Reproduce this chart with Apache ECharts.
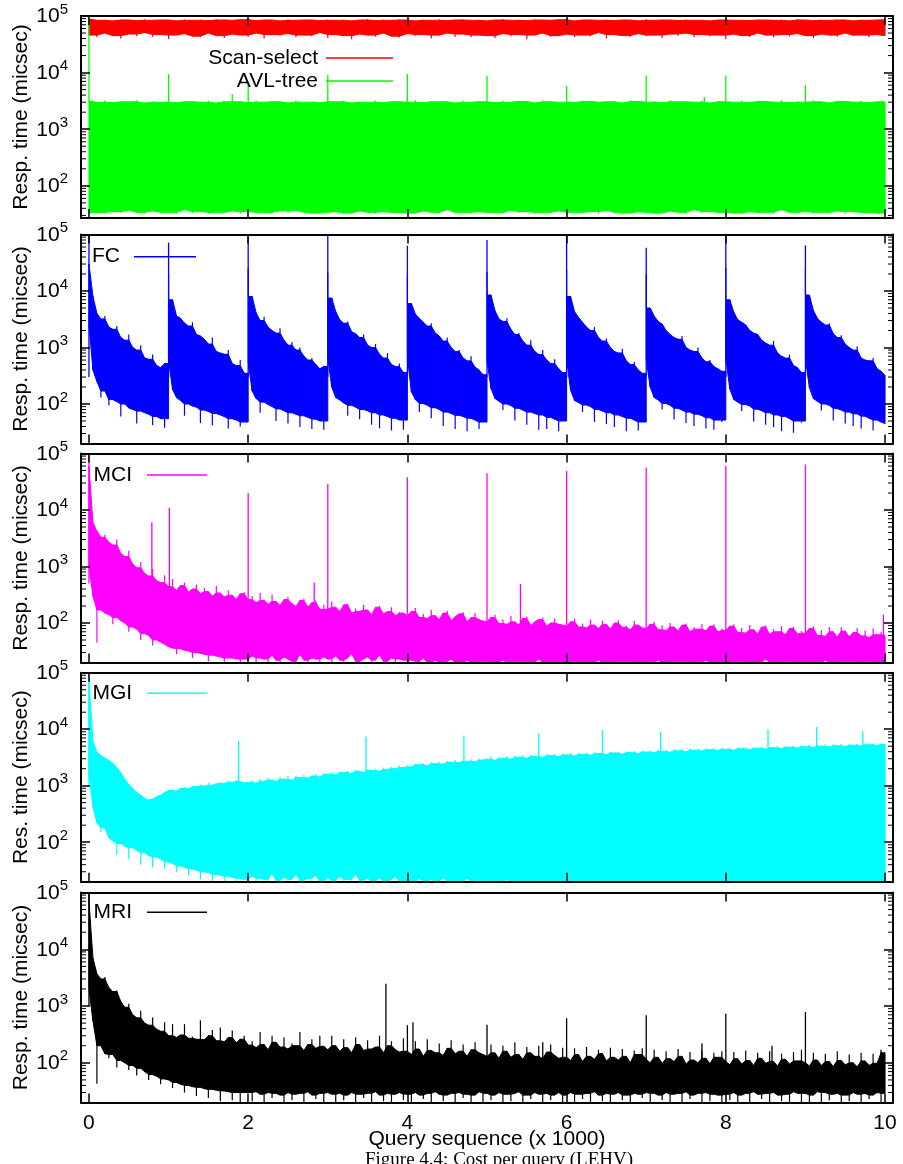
<!DOCTYPE html>
<html><head><meta charset="utf-8">
<script src="https://cdn.jsdelivr.net/npm/echarts@6/dist/echarts.min.js"></script>
<style>html,body{margin:0;padding:0;background:#fff}#c{width:903px;height:1164px}</style>
</head><body><div id="c"></div>
<script>
// ---------------- DATA ----------------
const X_TICKS = [0, 2, 4, 6, 8, 10];
const MINOR_TICKS = [20,30,40,50,60,70,80,90,200,300,400,500,600,700,800,900,2000,3000,4000,5000,6000,7000,8000,9000,20000,30000,40000,50000,60000,70000,80000,90000];
const Y_TITLES = ['Resp. time (micsec)','Resp. time (micsec)','Resp. time (micsec)','Res. time (micsec)','Resp. time (micsec)'];
const X_TITLE = 'Query sequence (x 1000)';
const CAPTION = 'Figure 4.4: Cost per query (LEHV)';

// Scan-select (sampled every 0.1 x 1000 queries): upper / lower envelope
const SCAN_HI = [88000,84000,86000,82000,87000,85000,83000,88000,84000,86000,
 85000,82000,87000,84000,86000,83000,88000,85000,84000,86000,
 87000,83000,85000,86000,82000,88000,84000,86000,85000,83000,
 87000,84000,86000,82000,85000,88000,83000,86000,84000,87000,
 85000,82000,86000,84000,88000,83000,85000,87000,84000,86000,
 82000,85000,88000,84000,86000,83000,87000,85000,84000,86000,
 88000,82000,85000,86000,84000,87000,83000,86000,85000,82000,
 88000,84000,86000,85000,83000,87000,84000,86000,82000,85000,
 88000,84000,86000,83000,87000,85000,84000,86000,82000,88000,
 85000,83000,86000,84000,87000,85000,82000,86000,84000,85000,
 86000];
const SCAN_LO = [46000,42000,50000,45000,40000,48000,44000,51000,43000,47000,
 39000,46000,49000,44000,42000,50000,45000,41000,48000,46000,
 43000,50000,40000,47000,45000,49000,42000,46000,44000,51000,
 41000,47000,45000,39000,48000,46000,43000,50000,44000,42000,
 49000,45000,47000,40000,46000,50000,43000,48000,42000,46000,
 45000,41000,49000,44000,47000,39000,46000,50000,43000,45000,
 48000,42000,46000,44000,51000,40000,47000,45000,43000,49000,
 44000,46000,41000,48000,45000,50000,42000,47000,44000,46000,
 39000,48000,45000,43000,50000,46000,42000,47000,44000,49000,
 45000,41000,48000,46000,43000,50000,44000,46000,42000,47000,
 45000];

// AVL-tree (every 0.1)
const AVL_HI = [3150,3000,3200,2950,3100,3050,3250,2900,3100,3000,
 3200,2950,3150,3050,3000,3200,2900,3150,3050,3100,
 2950,3200,3000,3150,3050,2900,3250,3000,3100,2950,
 3150,3050,3200,2900,3100,3000,3200,2950,3150,3050,
 3000,3250,2950,3100,3050,3150,2900,3200,3000,3100,
 3050,2950,3200,3000,3150,3100,2900,3250,3050,3000,
 3150,2950,3100,3200,3000,3050,3150,2900,3200,3100,
 3000,3150,2950,3250,3050,3100,3000,3200,2900,3150,
 3050,3000,3200,2950,3100,3150,3000,3250,2950,3100,
 3000,3200,3050,2900,3150,3100,3000,3200,2950,3100,
 3050];
const AVL_LO = [33,34,32,35,33,37,34,32,36,33,
 34,32,38,33,35,32,34,33,36,32,
 35,33,34,32,36,33,37,34,32,33,
 34,35,32,33,36,34,32,35,33,34,
 32,33,36,34,32,38,33,34,32,35,
 33,34,32,37,33,35,32,34,33,36,
 32,34,33,35,32,37,34,33,32,35,
 34,32,33,36,34,32,38,33,35,32,
 34,33,32,35,33,34,32,38,33,34,
 35,32,34,33,36,32,35,33,34,32,
 33];
const AVL_SPIKES = [[0,100000,3000],[1,9400,3000],[1.8,4200,3000],[2,6500,3000],[3,9100,3000],[4,9400,3000],[5,8700,3000],[6,5800,3000],[7,8900,3000],[7.73,3700,3000],[8,8900,3000],[9,6000,3000]];

// FC (every 0.05)
const FC_HI = [
 30000,8000,4000,3200,3600,2300,2100,2400,1500,1350,1700,1000,900,1100,650,620,750,480,440,520,
 20000,7000,3600,3300,2700,2400,2800,1700,1600,1400,1150,1500,850,800,760,900,520,480,600,350,
 25000,8000,4100,3000,3500,2300,2000,1800,2200,1350,1100,1250,900,1000,700,600,650,500,420,460,
 21000,7500,4300,3100,2700,2900,1900,1750,1500,1700,1100,1000,1150,760,650,800,500,460,520,360,
 18000,6000,3900,3300,2800,2400,2700,1800,1600,1300,1500,1000,850,900,650,580,700,450,400,330,
 22000,8500,4500,3200,2900,3300,2100,1700,1800,1300,1100,1350,850,750,900,600,520,620,420,360,
 24000,8000,4300,3400,2800,2300,2000,2300,1500,1300,1450,1000,850,800,950,580,500,560,400,350,
 20000,5000,3600,2900,2600,2000,1700,1500,1400,1600,1000,900,850,1000,650,560,600,460,420,380,
 26000,7000,4200,3100,2800,2500,2000,1800,1700,1350,1200,1100,1300,800,700,650,750,480,440,360,
 25000,8500,4500,3300,2800,2500,2700,1750,1500,1650,1150,1000,900,1050,650,600,580,650,420,380,
 320];
const FC_LO = [
 2500,400,250,130,170,95,120,110,60,100,85,80,45,75,70,66,42,60,55,38,
 600,180,130,115,62,100,92,88,46,78,74,42,68,64,60,37,55,52,40,48,
 550,170,125,70,108,98,90,50,82,76,45,70,66,39,62,58,36,54,50,35,
 650,200,130,118,104,62,95,88,54,80,76,43,70,37,64,60,34,56,52,35,
 660,165,120,72,102,95,56,86,80,41,72,68,36,63,60,33,56,52,36,48,
 580,190,125,112,78,100,94,51,84,78,43,72,68,35,64,36,58,54,33,50,
 620,175,115,106,72,96,90,48,80,75,44,70,39,64,60,33,56,52,34,48,
 600,200,130,118,80,102,95,53,84,78,46,72,41,66,62,37,57,35,52,48,
 640,185,120,108,75,98,92,49,81,76,43,70,39,64,33,60,55,31,50,47,
 610,195,125,112,77,100,95,51,83,78,45,72,41,67,37,61,56,34,52,48,
 45];
const FC_SPIKES = [[0,100000,300],[1,72000,300],[2,91000,300],[3,100000,300],[4,63000,300],[5,80000,300],[6,100000,300],[7,58000,300],[8,95000,300],[9,64000,300]];

// MCI (every 0.05)
const MCI_HI = [
 60000,6000,4200,3300,3600,2700,2400,3000,1700,1500,1900,1100,950,1200,750,680,900,560,520,700,
 440,600,380,460,520,350,400,480,330,420,360,300,450,340,290,380,310,260,330,350,
 260,300,230,340,250,215,320,240,205,260,290,220,195,250,270,190,230,250,175,210,
 175,240,190,160,210,220,150,180,160,210,170,140,190,200,145,160,190,135,155,150,
 135,160,185,125,145,120,170,135,115,150,165,110,130,145,155,105,125,150,115,108,
 106,125,140,98,115,95,135,105,92,120,130,90,105,115,125,88,100,120,95,92,
 88,105,120,85,98,82,115,92,80,110,95,78,100,112,84,90,76,108,92,82,
 80,95,105,76,90,74,100,85,72,92,98,70,84,78,96,73,88,95,70,80,
 74,88,95,68,82,66,92,76,64,85,90,63,78,70,88,62,80,86,64,72,
 66,80,88,60,75,58,85,70,56,84,72,57,68,82,59,74,55,80,62,70,
 60];
const MCI_LO = [
 1000,300,45,170,150,140,95,125,110,100,70,85,78,50,65,60,40,50,46,42,
 38,36,28,35,33,32,24,30,29,28,21,27,26,25,19,24,24,23,18,23,
 22,26,17,24,23,19,27,22,16,25,23,21,18,28,22,17,24,23,16,25,
 23,18,26,22,17,24,29,21,16,23,25,18,22,27,17,21,24,16,23,22,
 18,22,21,16,24,20,17,22,19,15,21,23,16,20,18,22,15,19,21,17,
 17,20,16,19,22,15,18,17,21,16,19,15,18,23,16,17,20,15,18,19,
 16,19,21,15,18,17,20,16,22,15,18,19,16,17,21,15,19,18,16,20,
 18,15,19,22,16,17,20,15,18,21,16,19,15,18,17,22,16,19,15,18,
 19,16,18,15,21,17,16,20,15,18,23,16,17,19,15,18,21,16,17,15,
 17,20,15,18,16,22,17,15,19,18,16,21,15,17,19,16,18,15,20,17,
 18];
const MCI_SPIKES = [[0,100000,500],[0.79,6000,300],[1.01,11000,300],[2,20000,200],[2.83,520,150],[3,29000,150],[4,38000,120],[5,44500,100],[5.42,490,100],[6,49000,90],[7,56000,80],[8,60000,70],[9,64000,60],[9.98,140,60]];

// MGI (every 0.05)
const MGI_HI = [
 70000,6000,3900,3400,3100,2800,2500,2100,1700,1300,1050,900,760,680,600,560,580,640,680,760,
 820,870,800,900,940,880,1000,960,1050,990,1130,1020,1080,1150,1100,1230,1150,1260,1180,1120,
 1150,1250,1100,1320,1200,1380,1260,1180,1420,1300,1480,1250,1500,1400,1550,1350,1480,1600,1420,1650,
 1600,1750,1550,1780,1700,1820,1650,1900,1800,1700,1950,1850,2000,1780,2100,1950,2150,2000,2250,2100,
 2300,2150,2450,2350,2500,2250,2600,2450,2650,2400,2750,2600,2870,2550,2800,2700,2950,2650,3000,2850,
 2950,3300,2800,3200,3050,3350,2950,3400,3200,3450,3050,3540,3300,3500,3150,3600,3400,3650,3250,3700,
 3500,3800,3350,3750,3600,3850,3450,3900,3700,3950,3550,4000,3800,3950,3600,4050,3850,4100,3700,4150,
 3950,4200,3800,4300,4050,4350,3900,4400,4150,4500,4000,4600,4250,4550,4100,4600,4350,4650,4200,4700,
 4400,4700,4250,4800,4500,4750,4350,4850,4600,4900,4450,4900,4700,5000,4550,5050,4800,5100,4650,5200,
 4900,5300,4750,5250,5000,5350,4850,5400,5100,5450,4950,5400,5200,5500,5050,5550,5300,5600,5150,5600,
 5400];
const MGI_LO = [
 1500,420,220,150,180,120,105,60,95,85,50,80,72,40,65,58,36,55,50,34,
 45,42,30,38,36,26,34,32,22,30,29,20,27,26,18,25,24,17,23,22,
 21,25,17,23,22,16,28,21,18,24,16,22,27,17,21,23,16,26,20,18,
 24,17,21,25,16,22,19,27,17,21,23,16,20,24,18,16,22,25,17,20,
 21,17,19,23,16,20,22,17,18,24,16,19,21,16,18,23,17,20,16,19,
 18,21,16,19,17,22,16,18,20,15,19,17,21,16,18,20,15,17,19,16,
 17,19,15,18,20,16,17,19,15,21,16,18,17,15,19,16,20,17,15,18,
 16,18,20,15,17,19,16,18,15,17,20,16,18,15,19,17,16,18,15,17,
 18,15,17,19,16,18,15,20,17,16,18,15,19,17,16,18,15,17,19,16,
 17,16,18,15,19,17,16,18,15,17,20,16,18,15,17,19,16,18,15,17,
 17];
const MGI_SPIKES = [[0,100000,1000],[1.88,6200,900],[3.48,7400,1800],[4.71,7700,2500],[5.65,8500,3000],[6.45,9700,3500],[7.18,8900,3500],[8.53,10000,4000],[9.14,11000,4500],[9.72,9300,4500]];

// MRI (every 0.05)
const MRI_HI = [
 70000,7000,3700,3000,3250,2100,1800,1870,1200,950,1100,700,620,830,500,460,630,390,360,520,
 300,480,280,310,480,270,290,260,560,255,300,380,245,420,235,280,370,225,260,300,
 205,240,185,350,210,170,300,230,190,280,175,220,200,350,165,210,260,180,300,195,
 170,300,200,160,260,185,150,280,210,165,250,175,190,300,150,200,240,170,155,270,
 160,140,240,175,130,260,165,150,220,135,180,250,145,160,210,130,170,230,150,140,
 130,210,150,120,200,160,125,230,140,115,190,150,130,200,118,155,210,135,120,185,
 125,110,180,140,105,190,130,115,170,145,108,185,125,112,175,130,100,165,140,180,
 115,100,170,125,98,160,118,105,175,130,95,155,112,100,165,120,96,150,125,160,
 105,92,155,118,95,165,110,90,150,120,98,160,105,88,145,115,95,155,108,170,
 100,88,150,112,90,145,105,86,160,110,92,140,100,85,150,108,90,145,98,155,
 150];
const MRI_LO = [
 2000,550,43,200,145,120,140,83,110,100,75,90,60,80,70,50,62,58,42,52,
 50,36,45,42,30,40,38,26,37,35,24,34,33,21,32,31,22,30,20,30,
 30,21,31,28,19,30,24,29,27,18,30,22,28,29,20,31,27,23,29,19,
 30,28,18,29,22,27,30,20,28,24,29,19,31,27,21,29,18,28,30,22,
 28,20,30,27,23,29,19,31,28,21,27,29,18,30,24,28,20,27,31,19,
 29,22,27,30,18,28,21,29,31,20,27,23,30,28,19,29,22,27,30,18,
 27,30,20,28,23,29,18,31,27,21,29,19,28,30,22,27,20,29,28,24,
 30,19,29,27,22,30,20,28,29,18,31,23,27,29,19,30,21,28,27,20,
 28,22,30,20,27,29,19,31,28,23,29,18,30,27,21,28,20,31,29,19,
 29,20,27,31,19,30,22,28,29,18,27,21,30,28,20,29,23,27,30,20,
 29];
const MRI_SPIKES = [[0,100000,1000],[3.73,2470,120],[4,460,120],[4.07,520,120],[5,470,110],[5.7,230,100],[6,610,100],[7,690,100],[7.7,220,90],[8,730,90],[8.58,200,90],[9,790,90],[9.95,170,80]];

// ---------------- CHART ----------------
const FONT = '"Liberation Sans", Arial, Helvetica, sans-serif';
const Y_MAX = 100000;
// sampling grids (query index in thousands)
const XS_COARSE = Array.from({length: SCAN_HI.length}, (_, i) => +(i * 0.1).toFixed(2));
const XS_FINE = Array.from({length: FC_HI.length}, (_, i) => +(i * 0.05).toFixed(2));

const GRIDS = [
  {top: 16, height: 202, ymin: 27},
  {top: 234.5, height: 209, ymin: 20},
  {top: 453.5, height: 209, ymin: 20},
  {top: 672.7, height: 209, ymin: 20},
  {top: 892.5, height: 210, ymin: 20}
];

// band = dense core polygon + thin whiskers for isolated excursions
function bandSeries(name, color, xs, lo, hi, g) {
  const ymin = GRIDS[g].ymin;
  const cl = v => Math.min(Y_MAX, Math.max(ymin, v));
  const H = hi.map(cl), L = lo.map(cl), n = xs.length;
  const cH = H.map((v, i) => Math.min(v, Math.max(i > 0 ? H[i - 1] : v, i < n - 1 ? H[i + 1] : v)));
  const cL = L.map((v, i) => Math.max(v, Math.min(i > 0 ? L[i - 1] : v, i < n - 1 ? L[i + 1] : v)));
  const data = [];
  for (let i = 0; i < n - 1; i++) {
    // a sudden jump (cache reset) is drawn as a vertical step at the next sample
    const jump = cH[i + 1] > 4 * cH[i];
    data.push([xs[i], L[i], H[i], xs[i + 1], cL[i], cH[i],
      jump ? cL[i] : cL[i + 1], jump ? cH[i] : cH[i + 1], L[i + 1], H[i + 1], i === n - 2 ? 1 : 0]);
  }
  return {
    type: 'custom', name, xAxisIndex: 2 * g, yAxisIndex: 2 * g, silent: true, animation: false,
    itemStyle: {color}, z: 2, data,
    renderItem(params, api) {
      const x0 = api.value(0), x1 = api.value(3);
      const P = (x, y) => api.coord([x, y]);
      const children = [{type: 'polygon',
        shape: {points: [P(x0, api.value(5)), P(x1, api.value(7)), P(x1, api.value(6)), P(x0, api.value(4))]},
        style: {fill: color, stroke: color, lineWidth: 1}}];
      const whisk = (x, from, to) => {
        if (Math.abs(Math.log10(from) - Math.log10(to)) < 0.01) return;
        const a = P(x, from), b = P(x, to);
        children.push({type: 'line', shape: {x1: a[0], y1: a[1], x2: b[0], y2: b[1]}, style: {stroke: color, lineWidth: 1.2}});
      };
      whisk(x0, api.value(5), api.value(2));
      whisk(x0, api.value(4), api.value(1));
      if (api.value(10) === 1) { whisk(x1, api.value(7), api.value(9)); whisk(x1, api.value(6), api.value(8)); }
      return {type: 'group', children};
    }
  };
}
function spikeSeries(name, color, spikes, g) {
  const ymin = GRIDS[g].ymin;
  const cl = v => Math.min(Y_MAX, Math.max(ymin, v));
  return {
    type: 'custom', name, xAxisIndex: 2 * g, yAxisIndex: 2 * g, silent: true, animation: false, z: 3,
    itemStyle: {color}, data: spikes,
    renderItem(params, api) {
      const x = api.value(0);
      const a = api.coord([x, cl(api.value(1))]);
      const b = api.coord([x, cl(api.value(2))]);
      return {type: 'line', shape: {x1: a[0], y1: a[1], x2: b[0], y2: b[1]}, style: {stroke: color, lineWidth: 1.3}};
    }
  };
}
function minorTickSeries(g) {
  const ymin = GRIDS[g].ymin;
  return {
    type: 'custom', name: 'minor' + g, xAxisIndex: 2 * g, yAxisIndex: 2 * g, silent: true, animation: false, z: 20,
    data: MINOR_TICKS.filter(v => v > ymin && v < Y_MAX).map(v => [0, v]),
    renderItem(params, api) {
      const cs = params.coordSys;
      const y = api.coord([0, api.value(1)])[1];
      return {type: 'group', children: [
        {type: 'line', shape: {x1: cs.x, y1: y, x2: cs.x + 5, y2: y}, style: {stroke: '#000', lineWidth: 1}},
        {type: 'line', shape: {x1: cs.x + cs.width - 5, y1: y, x2: cs.x + cs.width, y2: y}, style: {stroke: '#000', lineWidth: 1}}
      ]};
    }
  };
}

const grid = [], xAxis = [], yAxis = [];
GRIDS.forEach((G, g) => {
  grid.push({left: 81, width: 812, top: G.top, height: G.height, containLabel: false});
  const xBase = {
    type: 'value', gridIndex: g, min: -0.1, max: 10.1, z: 10,
    axisLine: {show: true, onZero: false, lineStyle: {color: '#000', width: 2}},
    axisTick: {show: true, inside: true, length: 9, customValues: X_TICKS, lineStyle: {color: '#000', width: 1.5}},
    splitLine: {show: false}
  };
  xAxis.push(Object.assign({}, xBase, {
    position: 'bottom',
    axisLabel: {show: g === 4, customValues: X_TICKS, fontSize: 21, fontFamily: FONT, color: '#000', margin: 10},
    name: g === 4 ? X_TITLE : '', nameLocation: 'middle', nameGap: 26, nameMoveOverlap: false,
    nameTextStyle: {fontSize: 21, fontFamily: FONT, color: '#000'}
  }));
  xAxis.push(Object.assign({}, xBase, {position: 'top', axisLabel: {show: false}}));
  const yBase = {
    type: 'log', logBase: 10, gridIndex: g, min: G.ymin, max: Y_MAX, z: 10,
    axisLine: {show: true, onZero: false, lineStyle: {color: '#000', width: 2}},
    axisTick: {show: true, inside: true, length: 9, lineStyle: {color: '#000', width: 1.5}},
    splitLine: {show: false}, minorTick: {show: false}
  };
  yAxis.push(Object.assign({}, yBase, {
    position: 'left',
    axisLabel: {
      margin: 13,
      formatter: v => {
        const e = Math.round(Math.log10(v));
        if (Math.abs(Math.pow(10, e) - v) > 1e-6 * v) return '';
        return '{b|10}{s|' + e + '}';
      },
      rich: {
        b: {fontSize: 21, fontFamily: FONT, color: '#000', lineHeight: 22, verticalAlign: 'bottom'},
        s: {fontSize: 15, fontFamily: FONT, color: '#000', lineHeight: 15, verticalAlign: 'bottom', padding: [0, 0, 10, 0]}
      }
    },
    name: Y_TITLES[g], nameLocation: 'middle', nameGap: 49, nameMoveOverlap: false,
    nameTextStyle: {fontSize: 21, fontFamily: FONT, color: '#000'}
  }));
  yAxis.push(Object.assign({}, yBase, {position: 'right', axisLabel: {show: false}}));
});

const series = [
  bandSeries('Scan-select', '#ff0000', XS_COARSE, SCAN_LO, SCAN_HI, 0),
  bandSeries('AVL-tree', '#00ff00', XS_COARSE, AVL_LO, AVL_HI, 0),
  spikeSeries('AVL-tree spikes', '#00ff00', AVL_SPIKES, 0),
  bandSeries('FC', '#0000ff', XS_FINE, FC_LO, FC_HI, 1),
  spikeSeries('FC spikes', '#0000ff', FC_SPIKES, 1),
  bandSeries('MCI', '#ff00ff', XS_FINE, MCI_LO, MCI_HI, 2),
  spikeSeries('MCI spikes', '#ff00ff', MCI_SPIKES, 2),
  bandSeries('MGI', '#00ffff', XS_FINE, MGI_LO, MGI_HI, 3),
  spikeSeries('MGI spikes', '#00ffff', MGI_SPIKES, 3),
  bandSeries('MRI', '#000000', XS_FINE, MRI_LO, MRI_HI, 4),
  spikeSeries('MRI spikes', '#000000', MRI_SPIKES, 4)
];
for (let g = 0; g < 5; g++) series.push(minorTickSeries(g));

const legBase = {orient: 'horizontal', align: 'right', icon: 'rect', itemHeight: 1.5, padding: 0,
  selectedMode: false, z: 30, itemGap: 0};
const legTxt = pad => ({fontSize: 21, fontFamily: FONT, color: '#000', lineHeight: 24, padding: [0, pad, 0, 0]});
const legend = [
  Object.assign({}, legBase, {data: ['Scan-select'], right: 510, top: 46, itemWidth: 67, textStyle: legTxt(3)}),
  Object.assign({}, legBase, {data: ['AVL-tree'], right: 510, top: 69, itemWidth: 67, textStyle: legTxt(3)}),
  Object.assign({}, legBase, {data: ['FC'], left: 92, top: 244.7, itemWidth: 62, textStyle: legTxt(9)}),
  Object.assign({}, legBase, {data: ['MCI'], left: 93.5, top: 463, itemWidth: 60, textStyle: legTxt(10)}),
  Object.assign({}, legBase, {data: ['MGI'], left: 92.5, top: 681.3, itemWidth: 60, textStyle: legTxt(10)}),
  Object.assign({}, legBase, {data: ['MRI'], left: 93.5, top: 900.3, itemWidth: 60, textStyle: legTxt(10)})
];

const chart = echarts.init(document.getElementById('c'), null, {renderer: 'canvas'});
chart.setOption({
  animation: false,
  backgroundColor: '#fff',
  grid, xAxis, yAxis, series, legend,
  graphic: [{type: 'text', left: 365, top: 1151, z: 50,
    style: {text: CAPTION, font: '19px "Liberation Serif", "Times New Roman", serif', fill: '#000'}}]
});
</script></body></html>
